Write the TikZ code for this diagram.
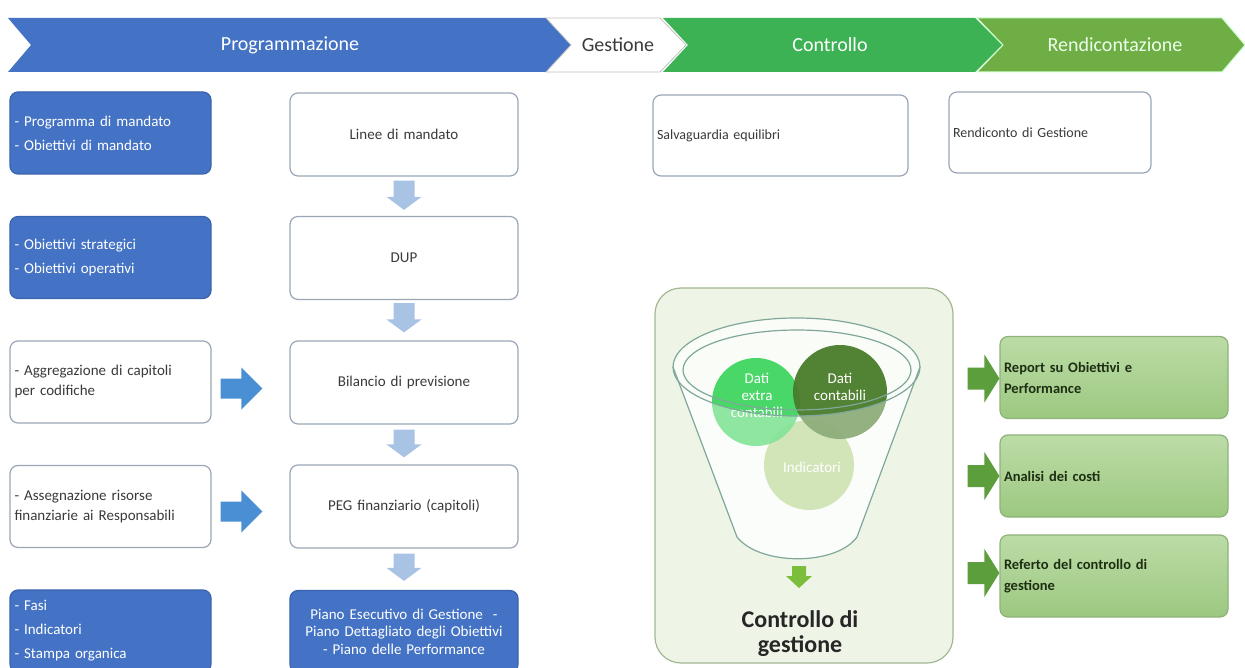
\documentclass[tikz,border=0pt]{standalone}
\usepackage{fontspec}
\setmainfont{Carlito}
\usetikzlibrary{calc}
\definecolor{bblue}{HTML}{4472C4}
\definecolor{bblueline}{HTML}{3A63AD}
\definecolor{boxline}{HTML}{9AA6B6}
\definecolor{txtgray}{HTML}{3A3A3A}
\definecolor{ctrlgreen}{HTML}{3DB254}
\definecolor{rendgreen}{HTML}{6FAE45}
\definecolor{larrow}{HTML}{A9C3E5}
\definecolor{marrow}{HTML}{4A8FD4}
\definecolor{panelfill}{HTML}{EEF4E6}
\definecolor{panelline}{HTML}{A3B794}
\definecolor{gboxtop}{HTML}{BCDCA6}
\definecolor{gboxbot}{HTML}{9CC881}
\definecolor{gboxline}{HTML}{8FB27A}
\definecolor{garrow}{HTML}{5C9E3C}
\definecolor{farrow}{HTML}{7CBD3C}
\definecolor{funline}{HTML}{7FA89A}
\definecolor{cextra}{HTML}{36D458}
\definecolor{ccont}{HTML}{4A7C2A}
\definecolor{cind}{HTML}{B4D48A}
\definecolor{gtext}{HTML}{1E2E12}
\newcommand\vdarrow[5]{%
  \fill[#5] let \p1=($(#1.south)+(0,#3)$), \p2=($(#2.north)-(0,#4)$) in
  (\x1-10.5pt,\y1) -- (\x1+10.5pt,\y1) -- (\x1+10.5pt,\y2+13pt) -- (\x1+17.5pt,\y2+13pt)
  -- (\x1,\y2) -- (\x1-17.5pt,\y2+13pt) -- (\x1-10.5pt,\y2+13pt) -- cycle;}
\newcommand\hrblock[9]{%
  \fill[#6] let \p1=($(#1.east |- #2.west)+(#3,#5)$), \p2=($(#2.west)+(-#4,#5)$) in
  (\x1,\y1-#7) -- (\x2-#9,\y1-#7) -- (\x2-#9,\y1-#8) -- (\x2,\y1)
  -- (\x2-#9,\y1+#8) -- (\x2-#9,\y1+#7) -- (\x1,\y1+#7) -- cycle;}
\begin{document}
\begin{tikzpicture}[x=1pt,y=-1pt,
  bluebox/.style={draw=bblueline, fill=bblue, rounded corners=8pt, line width=1.2pt,
    text=white, minimum width=201pt, minimum height=82pt, text width=192pt,
    align=left, inner sep=4pt, font=\fontsize{15}{24}\selectfont},
  wbox/.style={draw=boxline, fill=white, rounded corners=8pt, line width=1.2pt,
    text=txtgray, minimum width=201pt, minimum height=82pt, text width=192pt,
    align=left, inner sep=4pt, font=\fontsize{15}{20}\selectfont},
  cbox/.style={draw=boxline, fill=white, rounded corners=8pt, line width=1.2pt,
    text=txtgray, minimum width=228pt, minimum height=83pt, text width=220pt,
    align=center, inner sep=4pt, font=\fontsize{15}{20}\selectfont},
  cbluebox/.style={draw=bblueline, fill=bblue, rounded corners=8pt, line width=1.2pt,
    text=white, minimum width=228pt, minimum height=82pt, text width=224pt,
    align=center, inner sep=2pt, font=\fontsize{15}{17.5}\selectfont},
  gbox/.style={draw=gboxline, top color=gboxtop, bottom color=gboxbot, rounded corners=8pt,
    line width=1.2pt, text=gtext, minimum width=228pt, minimum height=82pt, text width=220pt,
    align=left, inner sep=4pt, font=\bfseries\fontsize{14.5}{21}\selectfont},
  rbox/.style={draw=boxline, fill=white, rounded corners=8pt, line width=1.2pt,
    text=txtgray, align=left, inner sep=4pt, font=\fontsize{14}{18}\selectfont},
  bantext/.style={font=\fontsize{20}{22}\selectfont},
  circtext/.style={text=white, align=center, font=\fontsize{15}{17}\selectfont}]
\useasboundingbox (0,0) rectangle (1245,668);
\fill[white] (0,0) rectangle (1245,668);

% banner
\fill[bblue] (8,18) -- (546,18) -- (571,45) -- (546,72) -- (8,72) -- (31,45) -- cycle;
\filldraw[fill=white, draw=black!25, line width=0.8pt] (546,18) -- (660,18) -- (686,45) -- (660,72) -- (546,72) -- (571,45) -- cycle;
\fill[ctrlgreen] (663,18) -- (975,18) -- (1002,45) -- (975,72) -- (663,72) -- (688,45) -- cycle;
\filldraw[fill=rendgreen, draw=white!80!green, line width=1pt] (977,18) -- (1222,18) -- (1245,45) -- (1222,72) -- (977,72) -- (1003,45) -- cycle;
\node[bantext, text=white] (bprog) at (290,45) {Programmazione};
\node[bantext, text=txtgray] (bgest) at (618,45) {Gestione};
\node[bantext, text=white] (bctrl) at (830,45) {Controllo};
\node[bantext, text=white!92!green] (brend) at (1115,45) {Rendicontazione};

% left column
\node[bluebox] (lb1) at (110.5,133) {- Programma di mandato\\- Obiettivi di mandato};
\node[bluebox] (lb2) at (110.5,257.5) {- Obiettivi strategici\\- Obiettivi operativi};
\node[wbox] (lb3) at (110.5,382) {- Aggregazione di capitoli\\per codifiche};
\node[wbox] (lb4) at (110.5,506.5) {- Assegnazione risorse\\finanziarie ai Responsabili};
\node[bluebox] (lb5) at (110.5,631) {- Fasi\\- Indicatori\\- Stampa organica};

% centre column
\node[cbox] (cb1) at (404,134.5) {Linee di mandato};
\node[cbox] (cb2) at (404,258) {DUP};
\node[cbox] (cb3) at (404,382.5) {Bilancio di previsione};
\node[cbox] (cb4) at (404,506.5) {PEG finanziario (capitoli)};
\node[cbluebox] (cb5) at (404,631.5) {Piano Esecutivo di Gestione~~-\\Piano Dettagliato degli Obiettivi\\- Piano delle Performance};

\vdarrow{cb1}{cb2}{4}{6}{larrow}
\vdarrow{cb2}{cb3}{3}{8}{larrow}
\vdarrow{cb3}{cb4}{5}{7}{larrow}
\vdarrow{cb4}{cb5}{5}{9}{larrow}

\hrblock{lb3}{cb3}{9}{27}{6}{marrow}{10pt}{21pt}{21pt}
\hrblock{lb4}{cb4}{9}{27}{5}{marrow}{10pt}{21pt}{21pt}

% right top boxes
\node[rbox, minimum width=255pt, minimum height=81pt, text width=247pt] (rs) at (780.5,135.5) {Salvaguardia equilibri};
\node[rbox, minimum width=202pt, minimum height=81pt, text width=194pt] (rr) at (1050,132.5) {Rendiconto di Gestione};

% control panel
\node[draw=panelline, fill=panelfill, rounded corners=26pt, line width=1.2pt,
  minimum width=298pt, minimum height=375pt] (panel) at (804,475.5) {};

% funnel body
\fill[white!70!panelfill] (673,367) -- (737,537) .. controls (760,566) and (836,566) .. (857,537) -- (920,367) -- cycle;
\fill[white!70!panelfill] (796.5,367) ellipse [x radius=123.5pt, y radius=49pt];
% circles
\fill[cind, fill opacity=0.95] (809,465) circle [radius=45pt];
\fill[cextra, fill opacity=0.9] (756,402) circle [radius=44pt];
\fill[ccont, fill opacity=0.95] (840,392) circle [radius=47pt];
\node[circtext] (tind) at (812,467) {Indicatori};
\node[circtext] (text) at (757,395) {Dati\\extra\\contabili};
\node[circtext] (tcont) at (840,387) {Dati\\contabili};
% front wall of the funnel (semi transparent)
\fill[white, fill opacity=0.38] (673,367) -- (737,537) .. controls (760,566) and (836,566) .. (857,537) -- (920,367)
  .. controls (920,394) and (864,416) .. (796.5,416) .. controls (729,416) and (673,394) .. (673,367) -- cycle;
\draw[funline, line width=1.2pt] (673,367) -- (737,537) .. controls (760,566) and (836,566) .. (857,537) -- (920,367);
\draw[funline, line width=1.2pt] (796.5,367) ellipse [x radius=123.5pt, y radius=49pt];
\draw[funline, line width=1.2pt] (797,370) ellipse [x radius=114pt, y radius=40pt];

% funnel output arrow and title
\fill[farrow] (792,566) -- (806,566) -- (806,576) -- (812,576) -- (799,588) -- (786,576) -- (792,576) -- cycle;
\node[font=\bfseries\fontsize{24}{25}\selectfont, text=black!85, align=center] (cg) at (800,634) {Controllo di\\gestione};

% result boxes
\node[gbox] (g1) at (1114,377.5) {Report su Obiettivi e\\Performance};
\node[gbox] (g2) at (1114,476) {Analisi dei costi};
\node[gbox] (g3) at (1114,576) {Referto del controllo di\\gestione};

\hrblock{panel}{g1}{14}{0}{1}{garrow}{11pt}{24pt}{15pt}
\hrblock{panel}{g2}{14}{0}{0}{garrow}{11pt}{24pt}{15pt}
\hrblock{panel}{g3}{14}{0}{-3}{garrow}{11pt}{24pt}{15pt}
\end{tikzpicture}
\end{document}
